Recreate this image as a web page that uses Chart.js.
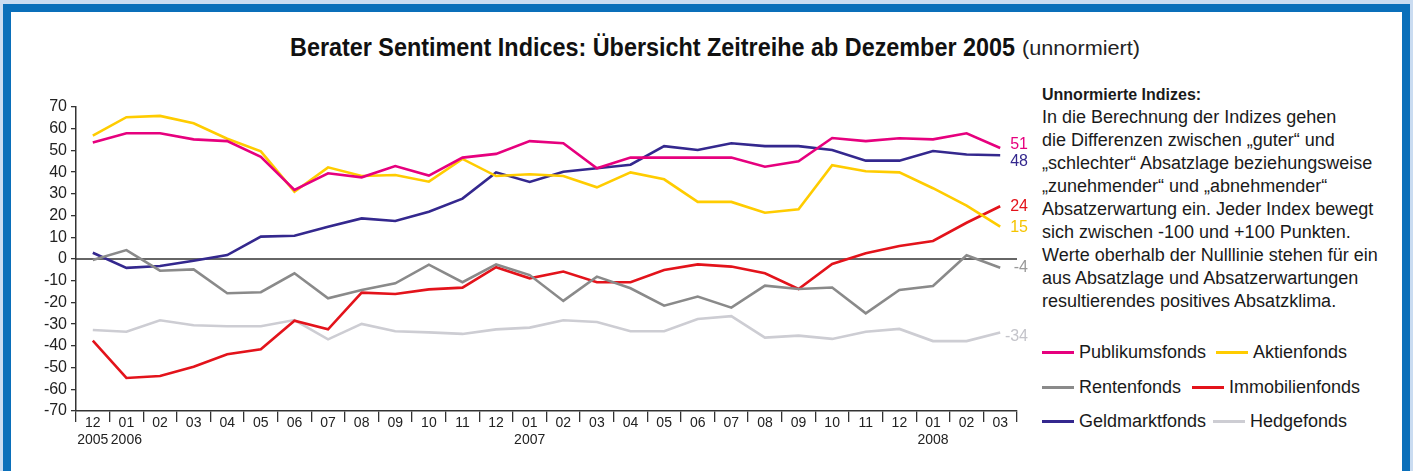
<!DOCTYPE html>
<html>
<head>
<meta charset="utf-8">
<script src="https://cdn.jsdelivr.net/npm/chart.js@4"></script>
<style>
  html, body { margin:0; padding:0; width:1413px; height:471px; overflow:hidden; background:#cadcf1;
    font-family:"Liberation Sans", Arial, sans-serif; color:#1a1a1a; }
  #frame { position:absolute; left:3px; top:4px; width:1391px; height:470px; border:8px solid #0a6fba; background:#fff; }
  #chart { position:absolute; left:0; top:0; }
  .ttl { position:absolute; white-space:nowrap; transform-origin:0 0; font-family:"Liberation Sans", Arial, sans-serif; }
  #ttlMain { left:290px; top:33px; font-size:25px; font-weight:bold; color:#111; }
  #ttlSub { left:1022px; top:37px; font-size:20px; color:#222; }
  #info { position:absolute; left:1042px; top:83px; font-size:18px; line-height:23px; white-space:nowrap; }
  #info .head { font-weight:bold; font-size:16px; }
  .leg { position:absolute; display:flex; align-items:center; font-size:18px; white-space:nowrap; }
  .leg i { display:inline-block; width:32px; height:3px; margin-right:5px; }
</style>
</head>
<body>
<div id="frame"></div>
<div class="ttl" id="ttlMain">Berater Sentiment Indices: Übersicht Zeitreihe ab Dezember 2005</div>
<div class="ttl" id="ttlSub">(unnormiert)</div>
<div id="info">
  <div class="head">Unnormierte Indizes:</div>
  <div>In die Berechnung der Indizes gehen</div>
  <div>die Differenzen zwischen „guter“ und</div>
  <div>„schlechter“ Absatzlage beziehungsweise</div>
  <div>„zunehmender“ und „abnehmender“</div>
  <div>Absatzerwartung ein. Jeder Index bewegt</div>
  <div>sich zwischen -100 und +100 Punkten.</div>
  <div>Werte oberhalb der Nulllinie stehen für ein</div>
  <div>aus Absatzlage und Absatzerwartungen</div>
  <div>resultierendes positives Absatzklima.</div>
</div>
<canvas id="chart" width="1040" height="471"></canvas>
<script>
// Monate 12/2005 – 03/2008
const months = ['12','01','02','03','04','05','06','07','08','09','10','11',
                '12','01','02','03','04','05','06','07','08','09','10','11',
                '12','01','02','03'];
const years = ['2005','2006','','','','','','','','','','',
               '','2007','','','','','','','','','','',
               '','2008','',''];

const publikum = [53.6,57.9,57.9,55.1,54.3,47.1,31.8,39.5,37.6,42.8,38.4,46.7,48.4,54.3,53.3,41.8,46.7,46.7,46.7,46.7,42.5,45.0,55.7,54.3,55.6,55.1,57.9,51.1];
const aktien   = [56.8,65.3,65.9,62.5,55.4,49.6,31.0,42.2,38.2,38.7,35.6,46.1,38.2,39.0,38.2,33.0,39.9,36.7,26.3,26.3,21.3,22.9,43.2,40.4,39.9,32.6,24.6,14.9];
const renten   = [-0.5,4.1,-5.4,-4.8,-15.8,-15.3,-6.6,-18.1,-14.3,-11.2,-2.6,-10.7,-2.5,-7.4,-19.3,-8.1,-13.5,-21.5,-17.3,-22.4,-12.3,-13.8,-13.1,-25.0,-14.3,-12.4,1.7,-4.0];
const immo     = [-37.6,-54.8,-53.9,-49.6,-43.9,-41.6,-28.4,-32.4,-15.5,-16.1,-14.0,-13.2,-3.8,-8.9,-5.8,-10.7,-10.7,-5.1,-2.5,-3.5,-6.6,-13.8,-2.3,2.6,6.0,8.3,16.7,24.3];
const geld     = [2.9,-4.1,-3.2,-0.8,1.8,10.3,10.7,14.9,18.7,17.5,21.8,27.8,39.9,35.5,40.2,41.8,43.4,52.0,50.2,53.3,52.0,52.0,50.2,45.3,45.3,49.7,48.1,47.8];
const hedge    = [-32.7,-33.5,-28.2,-30.5,-31.0,-31.0,-28.1,-37.0,-29.9,-33.3,-33.8,-34.5,-32.4,-31.6,-28.2,-29.0,-33.3,-33.3,-27.6,-26.3,-36.2,-35.3,-36.8,-33.5,-32.2,-37.8,-37.8,-33.8];

const labels = months.map((m, i) => years[i] ? [m, years[i]] : m);

// Serien (Name, Daten, Farbe, Farbe Endwert, vertikaler Versatz Endwert)
const series = [
  { name:'Publikumsfonds',  data:publikum, color:'#e6007e', txt:'#e6007e', dy:-3 },
  { name:'Aktienfonds',     data:aktien,   color:'#ffcc00', txt:'#f5c400', dy:1 },
  { name:'Rentenfonds',     data:renten,   color:'#8a8a8a', txt:'#999999', dy:0 },
  { name:'Immobilienfonds', data:immo,     color:'#e3131b', txt:'#e3131b', dy:0 },
  { name:'Geldmarktfonds',  data:geld,     color:'#34288e', txt:'#34288e', dy:6 },
  { name:'Hedgefonds',      data:hedge,    color:'#cdcdd3', txt:'#c4c4ca', dy:4 },
];

// Titel schmal ziehen (kein Narrow-Font vorhanden)
function squeeze(id, target) {
  const e = document.getElementById(id);
  const w = e.getBoundingClientRect().width;
  e.style.transform = 'scaleX(' + (target / w) + ')';
}
squeeze('ttlMain', 725);
squeeze('ttlSub', 118);

// Legende (HTML)
const legPos = [[1042,352],[1216,352],[1042,387],[1192,387],[1042,421],[1213,421]];
series.forEach((s, i) => {
  const d = document.createElement('div');
  d.className = 'leg';
  d.style.left = legPos[i][0] + 'px';
  d.style.top = (legPos[i][1] - 11) + 'px';
  d.style.height = '22px';
  d.innerHTML = '<i style="background:' + s.color + '"></i>' + s.name;
  document.body.appendChild(d);
});

const zeroLine = {
  id: 'zeroLine',
  beforeDatasetsDraw(chart) {
    const { ctx, chartArea, scales } = chart;
    const y = scales.y.getPixelForValue(0);
    ctx.save();
    ctx.strokeStyle = '#333';
    ctx.lineWidth = 1.5;
    ctx.beginPath();
    ctx.moveTo(chartArea.left, y);
    ctx.lineTo(chartArea.right, y);
    ctx.stroke();
    ctx.restore();
  }
};

const endLabels = {
  id: 'endLabels',
  afterDatasetsDraw(chart) {
    const ctx = chart.ctx;
    chart.data.datasets.forEach((ds, i) => {
      const meta = chart.getDatasetMeta(i);
      const last = meta.data.length - 1;
      const pt = meta.data[last];
      ctx.save();
      ctx.font = '16px "Liberation Sans", Arial, sans-serif';
      ctx.fillStyle = series[i].txt;
      ctx.textAlign = 'right';
      ctx.textBaseline = 'middle';
      ctx.fillText(String(Math.round(ds.data[last])), chart.chartArea.right + 11, pt.y + series[i].dy);
      ctx.restore();
    });
  }
};

new Chart(document.getElementById('chart'), {
  type: 'line',
  data: {
    labels: labels,
    datasets: series.map(s => ({
      label: s.name, data: s.data, borderColor: s.color, backgroundColor: s.color,
      borderWidth: 2.6, pointRadius: 0, tension: 0, fill: false
    }))
  },
  options: {
    responsive: false,
    animation: false,
    layout: { padding: { left: 0, top: 107, right: 23, bottom: 0 } },
    plugins: { legend: { display: false }, tooltip: { enabled: false }, title: { display: false } },
    scales: {
      x: {
        offset: true,
        grid: { offset: true, drawOnChartArea: false, drawTicks: true, tickLength: 11, color: '#333', lineWidth: 1.3 },
        border: { color: '#333', width: 1.5 },
        ticks: { autoSkip: false, maxRotation: 0, padding: -7, color: '#222',
                 font: { family: '"Liberation Sans", Arial, sans-serif', size: 14, lineHeight: 1.2 } },
        afterFit: s => { s.height = 60; }
      },
      y: {
        min: -70, max: 70,
        ticks: { stepSize: 10, autoSkip: false, padding: 4, color: '#222',
                 font: { family: '"Liberation Sans", Arial, sans-serif', size: 16 } },
        grid: { drawOnChartArea: false, drawTicks: true, tickLength: 5, color: '#333', lineWidth: 1.3 },
        border: { color: '#333', width: 1.5 },
        afterFit: s => { s.width = 76; }
      }
    }
  },
  plugins: [zeroLine, endLabels]
});
</script>
</body>
</html>
